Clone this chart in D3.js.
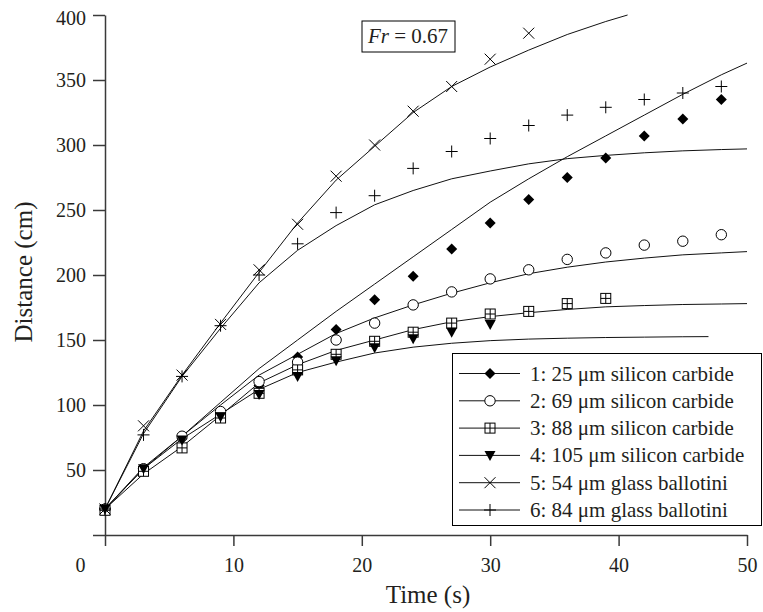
<!DOCTYPE html>
<html>
<head>
<meta charset="utf-8">
<script src="https://cdn.jsdelivr.net/npm/d3@7"></script>
<style>
  body { margin: 0; background: #fff; }
  text { font-family: "Liberation Serif", "Times New Roman", serif; fill: #231f20; }
</style>
</head>
<body>
<script>
// measured data points (time in s, distance in cm)
let times = [0, 3, 6, 9, 12, 15, 18, 21, 24, 27, 30, 33, 36, 39, 42, 45, 48];
let s1 = [20, 50, 74, 93, 115, 137, 158, 181, 199, 220, 240, 258, 275, 290, 307, 320, 335];
let s2 = [20, 51, 76, 95, 118, 133, 150, 163, 177, 187, 197, 204, 212, 217, 223, 226, 231];
let s3 = [19, 49, 67, 90, 109, 127, 139, 149, 156, 163, 170, 172, 178, 182];
let s4 = [20, 51, 73, 91, 108, 122, 134, 144, 151, 156, 162];
let s5 = [20, 84, 123, 162, 204, 239, 276, 300, 326, 345, 366, 386];
let s6 = [20, 77, 122, 161, 200, 224, 248, 261, 282, 295, 305, 315, 323, 329, 335, 340, 345];

// model curves
let fitTimes = [0, 3, 6, 9, 12, 15, 18, 21, 24, 27, 30, 33, 36, 39, 42, 45, 48, 50];
let fitTimes4 = [0, 3, 6, 9, 12, 15, 18, 21, 24, 27, 30, 33, 36, 39, 42, 45, 47];
let fitTimes5 = [0, 3, 6, 9, 12, 15, 18, 21, 24, 27, 30, 33, 36, 39, 40.7];
let fit1 = [20, 51, 76, 102, 128, 150, 172, 193, 214, 235, 256, 274, 291, 307, 323, 339, 354, 363];
let fit2 = [20, 52, 76, 100, 123, 139, 155, 167, 177, 186, 194, 201, 206, 210, 213, 215.5, 217, 218];
let fit3 = [20, 47, 68, 92, 117, 131, 142, 150, 158, 164, 168, 171, 173.5, 175.5, 176.5, 177.3, 177.7, 178];
let fit4 = [20, 51, 74, 93, 112, 125, 133, 140, 144.5, 147.5, 149.5, 150.7, 151.4, 151.9, 152.2, 152.5, 152.6];
let fit5 = [20, 80, 123, 163, 202, 240, 273, 299, 325, 345, 360, 373, 385, 395, 400];
let fit6 = [20, 78, 122, 159, 194, 219, 238, 254, 265, 274, 280, 285.5, 289.5, 292, 294, 295.5, 296.5, 297];

let labels = ["1: 25 \u03bcm silicon carbide", "2: 69 \u03bcm silicon carbide", "3: 88 \u03bcm silicon carbide",
  "4: 105 \u03bcm silicon carbide", "5: 54 \u03bcm glass ballotini", "6: 84 \u03bcm glass ballotini"];
let markers = ["diamond", "circle", "square", "triangle", "cross", "plus"];
let xTicks = [0, 10, 20, 30, 40, 50];
let yTicks = [0, 50, 100, 150, 200, 250, 300, 350, 400];

let w = 763, h = 612;
let svg = d3.select("body").append("svg").attr("width", w).attr("height", h);

let x = d3.scaleLinear().domain([0, 50]).range([105, 747]);
let y = d3.scaleLinear().domain([0, 400]).range([535, 15]);

// axes
let yAxis = svg.append("g").attr("transform", "translate(105,0)")
  .call(d3.axisLeft(y).tickValues(yTicks).tickSize(12).tickSizeOuter(0).tickPadding(7)
    .tickFormat(d => d === 0 ? "" : d));
let xAxis = svg.append("g").attr("transform", "translate(0,535)")
  .call(d3.axisBottom(x).tickValues(xTicks).tickSize(11).tickSizeOuter(0).tickPadding(12));
[yAxis, xAxis].forEach(a => {
  a.selectAll("path, line").attr("stroke", "#3a3a3a").attr("stroke-width", 1.5);
  a.selectAll("text").style("font-size", "20px").attr("fill", "#231f20")
    .style("font-family", "'Liberation Serif', 'Times New Roman', serif");
});
xAxis.selectAll(".tick text").filter(d => d === 0).attr("dx", -25);
yAxis.selectAll(".tick text").filter(d => d === 400).attr("dy", "0.47em");

svg.append("text").attr("x", 428).attr("y", 603).attr("text-anchor", "middle")
  .style("font-size", "25px").text("Time (s)");
svg.append("text").attr("transform", "translate(32,272) rotate(-90)").attr("text-anchor", "middle")
  .style("font-size", "25px").text("Distance (cm)");

// model curves
let line = d3.line().x(d => x(d[0])).y(d => y(d[1]));
let fits = [[fitTimes, fit1], [fitTimes, fit2], [fitTimes, fit3], [fitTimes4, fit4], [fitTimes5, fit5], [fitTimes, fit6]];
svg.append("g").selectAll("path").data(fits).enter().append("path")
  .attr("d", f => line(f[0].map((t, i) => [t, f[1][i]])))
  .attr("fill", "none").attr("stroke", "#111").attr("stroke-width", 1);

function drawMarker(g, type) {
  if (type === "diamond") {
    g.append("path").attr("d", "M0,-5.5L5.5,0L0,5.5L-5.5,0Z").attr("fill", "#000");
  } else if (type === "circle") {
    g.append("circle").attr("r", 5.2).attr("fill", "#fff").attr("stroke", "#000").attr("stroke-width", 1);
  } else if (type === "square") {
    g.append("rect").attr("x", -5).attr("y", -5).attr("width", 10).attr("height", 10)
      .attr("fill", "#fff").attr("stroke", "#000").attr("stroke-width", 1);
    g.append("path").attr("d", "M-5,0H5M0,-5V5").attr("stroke", "#000").attr("stroke-width", 1);
  } else if (type === "triangle") {
    g.append("path").attr("d", "M-5.5,-4.5L5.5,-4.5L0,5.5Z").attr("fill", "#000");
  } else if (type === "cross") {
    g.append("path").attr("d", "M-5.5,-5.5L5.5,5.5M-5.5,5.5L5.5,-5.5").attr("stroke", "#000").attr("stroke-width", 1);
  } else {
    g.append("path").attr("d", "M-6,0H6M0,-6V6").attr("stroke", "#000").attr("stroke-width", 1);
  }
}

// data markers
let series = [s1, s2, s3, s4, s5, s6];
series.forEach((s, k) => {
  s.forEach((v, i) => {
    let g = svg.append("g").attr("transform", "translate(" + x(times[i]) + "," + y(v) + ")");
    drawMarker(g, markers[k]);
  });
});

// legend
let legend = svg.append("g");
legend.append("rect").attr("x", 452.5).attr("y", 353.5).attr("width", 309).attr("height", 172)
  .attr("fill", "#fff").attr("stroke", "#000").attr("stroke-width", 1);
labels.forEach((lab, i) => {
  let ly = 373.5 + i * 27.3;
  legend.append("line").attr("x1", 459).attr("x2", 520).attr("y1", ly).attr("y2", ly)
    .attr("stroke", "#111").attr("stroke-width", 1);
  drawMarker(legend.append("g").attr("transform", "translate(490," + ly + ")"), markers[i]);
  legend.append("text").attr("x", 530).attr("y", ly + 7).style("font-size", "21px").text(lab);
});

// Froude number box
svg.append("rect").attr("x", 362).attr("y", 21).attr("width", 93).attr("height", 31)
  .attr("fill", "#fff").attr("stroke", "#000").attr("stroke-width", 1);
let fr = svg.append("text").attr("x", 408).attr("y", 43).attr("text-anchor", "middle").style("font-size", "21px");
fr.append("tspan").style("font-style", "italic").text("Fr");
fr.append("tspan").text(" = 0.67");
</script>
</body>
</html>
